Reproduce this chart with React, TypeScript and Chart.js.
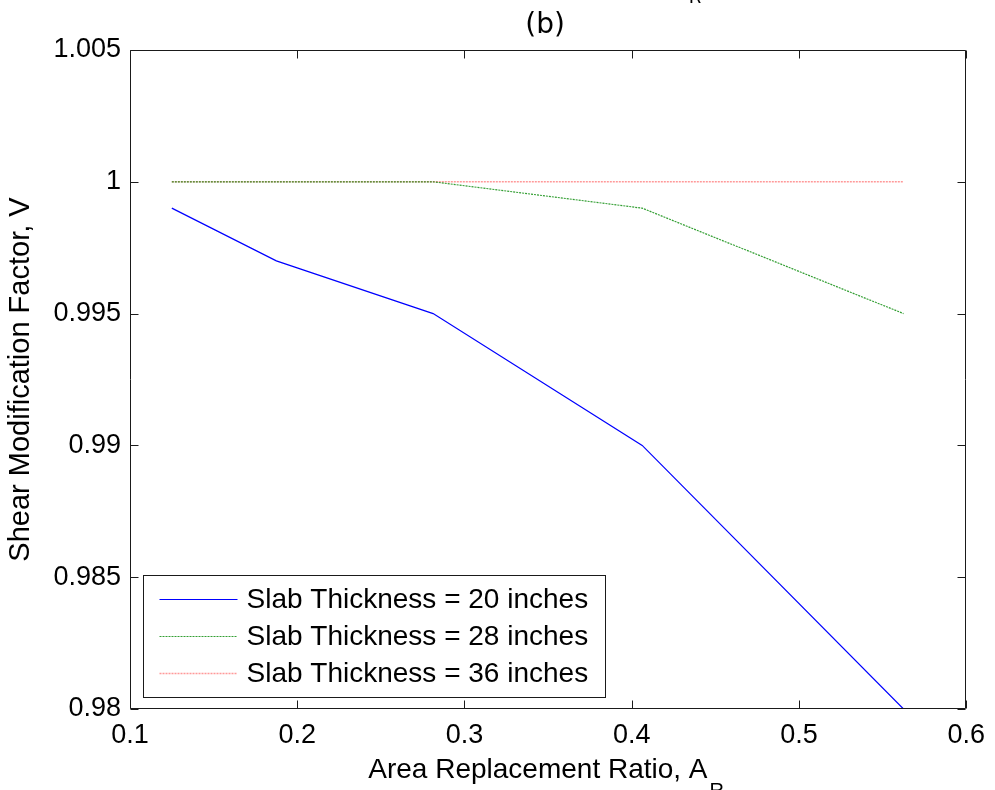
import React, { useEffect, useRef } from "react";
import { Chart, registerables } from "chart.js";

Chart.register(...registerables);

const xValues = [0.125, 0.1875, 0.28125, 0.40625, 0.5625];
const slab20 = [0.999, 0.997, 0.995, 0.99, 0.98];
const slab28 = [1.0, 1.0, 1.0, 0.999, 0.995];
const slab36 = [1.0, 1.0, 1.0, 1.0, 1.0];
const seriesLabels = [
  "Slab Thickness = 20 inches",
  "Slab Thickness = 28 inches",
  "Slab Thickness = 36 inches",
];
const xTitle = "Area Replacement Ratio, A";
const xTitleSub = "R";
const yTitle = "Shear Modification Factor, V";
const chartTitle = "(b)";

const SANS = '"Liberation Sans", Arial, sans-serif';

const decor = {
  id: "decor",
  afterDraw(chart: any) {
    const { ctx, chartArea, scales } = chart;
    const { left, right, top, bottom } = chartArea;
    const xs = scales.x;
    const ys = scales.y;
    ctx.save();
    // box
    ctx.strokeStyle = "#1a1a1a";
    ctx.lineWidth = 1;
    const L = Math.round(left) + 0.5;
    const R = Math.round(right) - 0.5;
    const T = Math.round(top) + 0.5;
    const B = Math.round(bottom) - 0.5;
    ctx.beginPath();
    ctx.rect(L, T, R - L, B - T);
    ctx.stroke();
    // inward ticks
    const tl = 8;
    ctx.beginPath();
    xs.ticks.forEach((t: any) => {
      const px = Math.round(xs.getPixelForValue(t.value)) + 0.5;
      ctx.moveTo(px, B);
      ctx.lineTo(px, B - tl);
      ctx.moveTo(px, T);
      ctx.lineTo(px, T + tl);
    });
    ys.ticks.forEach((t: any) => {
      const py = Math.round(ys.getPixelForValue(t.value)) + 0.5;
      ctx.moveTo(L, py);
      ctx.lineTo(L + tl, py);
      ctx.moveTo(R, py);
      ctx.lineTo(R - tl, py);
    });
    ctx.stroke();

    // legend
    const lx = Math.round(left) + 13.5;
    const lw = 462;
    const lh = 122;
    const ly = Math.round(bottom) - 12 - lh + 0.5;
    ctx.fillStyle = "#ffffff";
    ctx.fillRect(lx, ly, lw, lh);
    ctx.strokeStyle = "#1a1a1a";
    ctx.strokeRect(lx, ly, lw, lh);
    ctx.font = `28px ${SANS}`;
    ctx.textBaseline = "middle";
    ctx.textAlign = "left";
    chart.data.datasets.forEach((ds: any, i: number) => {
      const rowY = ly + 23 + i * 37;
      ctx.save();
      ctx.strokeStyle = ds.borderColor;
      ctx.lineWidth = ds.borderWidth;
      ctx.setLineDash(ds.borderDash || []);
      ctx.beginPath();
      ctx.moveTo(lx + 16, Math.round(rowY) + 0.5);
      ctx.lineTo(lx + 94, Math.round(rowY) + 0.5);
      ctx.stroke();
      ctx.restore();
      ctx.fillStyle = "#000";
      ctx.fillText(ds.label, lx + 103, rowY + 2);
    });

    // x title with subscript
    ctx.fillStyle = "#000";
    ctx.textBaseline = "alphabetic";
    ctx.font = `28px ${SANS}`;
    const wMain = ctx.measureText(xTitle).width;
    ctx.font = `20px ${SANS}`;
    const wSub = ctx.measureText(xTitleSub).width;
    const startX = (left + right) / 2 - (wMain + wSub) / 2 - 3;
    ctx.font = `28px ${SANS}`;
    ctx.fillText(xTitle, startX, 778);
    ctx.font = `20px ${SANS}`;
    ctx.fillText(xTitleSub, startX + wMain + 2, 797);

    // chart title
    ctx.font = '28px "DejaVu Sans", sans-serif';
    ctx.textAlign = "center";
    ctx.fillText(chartTitle, (left + right) / 2 - 3, 33);
    // cut-off subscript of title above
    ctx.font = '18px "DejaVu Sans", sans-serif';
    ctx.fillText("R", 695, 3);
    ctx.restore();
  },
};

export default function App() {
  const ref = useRef<HTMLCanvasElement | null>(null);
  useEffect(() => {
    document.body.style.margin = "0";
    const canvas = ref.current!;
    const chart = new Chart(canvas, {
      type: "line",
      data: {
        datasets: [
          {
            label: seriesLabels[0],
            data: xValues.map((x, i) => ({ x, y: slab20[i] })),
            borderColor: "#0000ff",
            borderWidth: 1.2,
            pointRadius: 0,
            tension: 0,
          },
          {
            label: seriesLabels[1],
            data: xValues.map((x, i) => ({ x, y: slab28[i] })),
            borderColor: "rgba(0,135,0,0.8)",
            borderWidth: 1.2,
            borderDash: [2, 1],
            pointRadius: 0,
            tension: 0,
          },
          {
            label: seriesLabels[2],
            data: xValues.map((x, i) => ({ x, y: slab36[i] })),
            borderColor: "rgba(255,70,70,0.55)",
            borderWidth: 1.4,
            borderDash: [2, 1],
            pointRadius: 0,
            tension: 0,
          },
        ],
      },
      options: {
        animation: false,
        responsive: false,
        layout: { padding: { top: 50, right: 24, left: 0, bottom: 0 } },
        plugins: {
          legend: { display: false },
          title: { display: false },
          tooltip: { enabled: false },
        },
        scales: {
          x: {
            type: "linear",
            min: 0.1,
            max: 0.6,
            grid: { display: false, drawTicks: false },
            border: { display: false },
            ticks: {
              stepSize: 0.1,
              padding: 10,
              color: "#000",
              font: { family: SANS, size: 27 },
              callback: (v: any) => Number(v).toFixed(1),
            },
            afterFit: (s: any) => {
              s.height = 81;
            },
          },
          y: {
            type: "linear",
            min: 0.98,
            max: 1.005,
            grid: { display: false, drawTicks: false },
            border: { display: false },
            title: {
              display: true,
              text: yTitle,
              color: "#000",
              font: { family: SANS, size: 29 },
              padding: { top: 4, bottom: 0 },
            },
            ticks: {
              stepSize: 0.005,
              padding: 9,
              color: "#000",
              font: { family: SANS, size: 27 },
              callback: (v: any) => String(parseFloat(Number(v).toFixed(4))),
            },
            afterFit: (s: any) => {
              s.width = 130;
            },
          },
        },
      },
      plugins: [decor],
    });
    return () => chart.destroy();
  }, []);
  return <canvas ref={ref} width={995} height={790} style={{ display: "block" }} />;
}
